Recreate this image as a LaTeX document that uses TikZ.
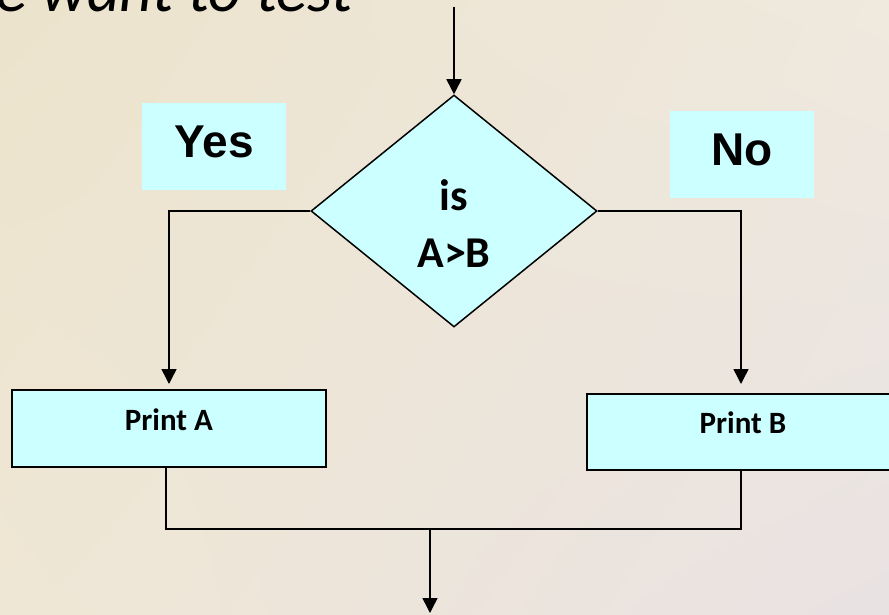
\documentclass[tikz,border=0pt]{standalone}
\usepackage{fontspec}
\usetikzlibrary{shapes.geometric,arrows.meta,shadings}
\newfontfamily\carlito{Carlito}
\newfontfamily\arialfont{Liberation Sans}
\definecolor{boxfill}{RGB}{204,255,255}
\definecolor{bgUL}{RGB}{236,227,204}
\definecolor{bgUR}{RGB}{239,233,222}
\definecolor{bgLL}{RGB}{239,231,213}
\definecolor{bgLR}{RGB}{233,226,227}
\tikzset{
  flowbox/.style={draw=black, line width=2pt, fill=boxfill, inner sep=0pt,
    font=\carlito\bfseries\fontsize{31}{36}\selectfont},
  tagbox/.style={fill=boxfill, inner sep=0pt,
    font=\arialfont\bfseries\fontsize{46}{50}\selectfont},
  decision/.style={diamond, draw=black, line width=1.5pt, fill=boxfill, inner sep=0pt},
  link/.style={draw=black, line width=1.5pt},
  flowarrow/.style={link, -{Triangle[width=15pt,length=15pt]}}
}
\begin{document}
\begin{tikzpicture}[x=1pt,y=-1pt]
\useasboundingbox (0,0) rectangle (889,615);
\shade[upper left=bgUL, upper right=bgUR, lower left=bgLL, lower right=bgLR]
  (0,0) rectangle (889,615);
\begin{scope}
\clip (0,0) rectangle (889,615);

% heading text running off the top edge
\node[anchor=base west, inner sep=0pt, font=\carlito\itshape\fontsize{64}{70}\selectfont]
  (heading) at (-4,12) {e want to test};

% decision
\node[decision, minimum width=286pt, minimum height=232pt] (dec) at (454,211) {};
\node[inner sep=0pt, align=center, font=\carlito\bfseries\fontsize{44}{57}\selectfont]
  (cond) at (454,224) {is\\A>B};

% branch tags
\node[tagbox, minimum width=144pt, minimum height=87pt, text depth=10pt] (yes) at (214,146.5) {Yes};
\node[tagbox, minimum width=144pt, minimum height=87pt, text depth=9pt] (no) at (742,154.5) {No};

% actions
\node[flowbox, minimum width=314pt, minimum height=77pt, text depth=17pt] (pa) at (169,428.5) {Print A};
\node[flowbox, minimum width=312pt, minimum height=76pt, text depth=18pt] (pb) at (743,432) {Print B};

% connectors
\coordinate (entry) at (454,7);
\coordinate (join) at (430,529);
\coordinate (exit) at (430,613);
\draw[flowarrow] (entry) -- (dec.north);
\draw[flowarrow, shorten >=5pt] (dec.west) -| (pa.north);
\draw[flowarrow, shorten >=9pt] (dec.east) -| ([xshift=-2pt]pb.north);
\draw[link] ([xshift=-3pt]pa.south) -- ([xshift=-3pt]pa.south |- join)
  -- ([xshift=-2pt]pb.south |- join) -- ([xshift=-2pt]pb.south);
\draw[flowarrow] (join) -- (exit);
\end{scope}
\end{tikzpicture}
\end{document}
